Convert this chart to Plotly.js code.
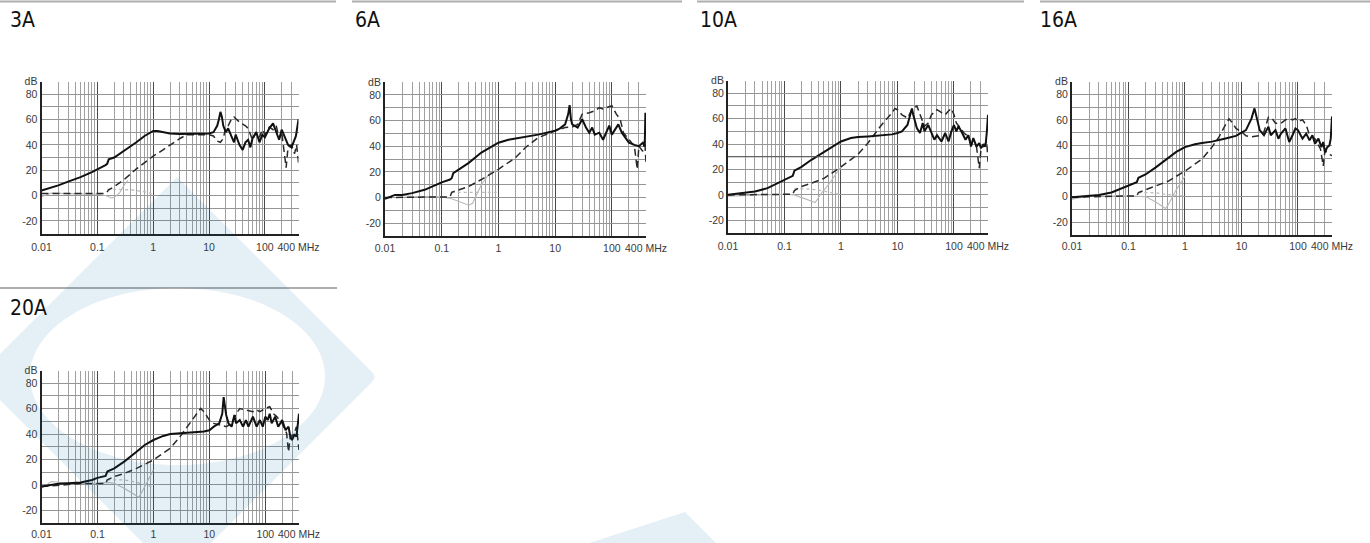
<!DOCTYPE html>
<html>
<head>
<meta charset="utf-8">
<script src="https://cdn.plot.ly/plotly-3.0.1.min.js"></script>
<style>
html,body{margin:0;padding:0;background:#fff;overflow:hidden}
#chart{width:1370px;height:543px}
</style>
</head>
<body>
<div id="chart"></div>
<script>
// ---------------- DATA (frequency in MHz, attenuation in dB) ----------------
const panelNames = ['3A', '6A', '10A', '16A', '20A'];
const xTickVals = [0.01, 0.1, 1, 10, 100, 400];
const xTickText = ['0.01', '0.1', '1', '10', '100', '400 MHz'];
const yTickVals = [-20, 0, 20, 40, 60, 80, 90];
const yTickText = ['-20', '0', '20', '40', '60', '80', 'dB'];

// 3A
const a3_solid_f  = [0.01,0.02,0.03,0.05,0.08,0.1,0.14,0.15,0.16,0.2,0.3,0.5,0.7,1,1.2,1.5,2,3,5,8,10,12,14,15,16,17,18,20,22,25,28,30,35,40,45,50,55,60,70,80,90,100,120,140,160,180,200,230,260,300,330,360,400];
const a3_solid_dB = [4,8,11,14.5,18.5,20.5,24,25,28.5,30,35,42,47,51,51,50,49,48.5,48.5,48.5,49,50,55,60,66,62,55,50,53,47,42,48,40,36,42,44,38,45,50,42,48,46,53,57,50,44,52,46,40,38,42,47,60];
const a3_dash_f   = [0.01,0.05,0.1,0.14,0.15,0.16,0.2,0.3,0.5,0.7,1,1.5,2,3,4,5,8,10,12,14,16,18,20,22,25,28,35,45,50,60,70,80,90,100,120,140,160,180,200,220,240,260,300,340,370,400];
const a3_dash_dB  = [1.5,1.5,1.5,1.5,3,4.5,7,12.5,21,26,31,36,40,45,48,48,48,48,47,43,42,45,54,55,60,62,58,55,53,44,50,46,52,48,54,52,55,45,50,35,22,38,40,33,40,26];
const a3_gray_f   = [0.01,0.015,0.03,0.1,0.14,0.18,0.2,0.25,0.3,0.35];
const a3_gray_dB  = [-1,2,1.5,1,0,-2,-1.5,2,8,12];
const a3_dot_f    = [0.15,0.2,0.4,0.7,1];
const a3_dot_dB   = [5,5,4.5,3,1];

// 6A
const a6_solid_f  = [0.01,0.015,0.02,0.03,0.05,0.08,0.1,0.14,0.15,0.16,0.2,0.3,0.5,0.7,1,1.5,2,3,5,10,12,15,17,18,19,20,25,30,35,40,45,50,60,70,80,90,100,110,130,150,180,200,250,300,350,380,390,400];
const a6_solid_dB = [-1,2,2,3.4,6,10,11.8,14,15,19,21.7,27,35,38.7,42.7,45,46,47.4,49,52,53.7,57,65,72,61,57,54.5,61,54.5,50.5,54.5,49,50.5,45,50.5,56,49,52,57,50.5,45,42.7,41,40,42.7,40,66,62];
const a6_dash_f   = [0.01,0.05,0.1,0.14,0.15,0.2,0.3,0.5,1,2,3,5,10,15,20,25,30,40,50,60,70,80,100,120,140,160,200,250,280,300,350,380,400];
const a6_dash_dB  = [0,0.5,0.5,0.5,4,6,8.6,14,22,31,39,46.6,52,54.5,55,57,65,66,67.5,70,69,70,71.5,65,61,50.5,45,40,22,40,36,45,27];
const a6_gray_f   = [0.01,0.015,0.03,0.1,0.15,0.2,0.3,0.35,0.5,0.7,1];
const a6_gray_dB  = [-1,2,1,0.5,-1,-3,-6,-4.5,10,19,22];
const a6_dot_f    = [0.15,0.3,0.5,1];
const a6_dot_dB   = [4,4,4,4];

// 10A
const a10_solid_f  = [0.01,0.02,0.03,0.05,0.08,0.1,0.14,0.15,0.2,0.3,0.5,0.7,1,1.5,2,3,5,8,10,12,15,17,18,19,20,22,25,28,30,35,40,45,50,60,70,80,90,100,110,120,140,160,180,200,220,250,280,300,330,360,380,400];
const a10_solid_dB = [0,1.3,2.6,5.3,9.7,11.8,15,19,22,27.6,34,38,42,44.7,45.5,46,47,47.6,48.7,50,55,63,68,63,59,52.6,48.7,56.6,50,55,48.7,43.4,47,42,48.7,42,50,55,50,54,48.7,43.4,47,38,44.7,38,40.8,36.8,39.5,38,48.7,63];
const a10_dash_f   = [0.01,0.05,0.1,0.14,0.15,0.2,0.3,0.5,1,2,3,5,8,9,10,12,15,18,22,25,30,35,40,50,60,70,80,90,100,110,130,150,180,200,250,280,300,350,380,400];
const a10_dash_dB  = [0,0.5,0.5,0.5,3.4,6.6,9.2,13,22,32,40.8,54,64.5,68,67,63,60.5,67,70,63,54,56.6,63,67,64.5,63,66,68,63,56.6,52.6,48.7,46,40.8,38,21,35.5,39.5,42,26];
const a10_gray_f   = [0.01,0.1,0.15,0.2,0.3,0.35,0.45,0.6,0.8,1];
const a10_gray_dB  = [-1,0.5,0,-2,-5,-6,1.3,8,16,22];
const a10_dot_f    = [0.15,0.3,0.5,1];
const a10_dot_dB   = [5,4.5,3,0];

// 16A
const a16_solid_f  = [0.01,0.02,0.03,0.05,0.08,0.1,0.14,0.15,0.2,0.3,0.5,0.7,1,1.5,2,3,5,8,10,12,15,17,19,21,25,30,33,40,45,50,60,70,80,90,100,120,140,160,180,200,230,260,280,300,330,360,380,400];
const a16_solid_dB = [-0.5,0.5,1.3,3.2,6.7,8.8,11.2,14.7,17.3,22.7,30,35,38.7,41,42,43,45.3,47.5,50,52,61,69,60,52,48,54.7,48,52,45.3,49.3,53.3,42.7,48,53.3,52,45.3,49.3,44,48,41.3,45.3,38.7,42.7,34.7,38.7,40,45.3,62.7];
const a16_dash_f   = [0.01,0.05,0.1,0.14,0.15,0.2,0.3,0.5,1,2,3,4,5,6,7,8,10,12,15,20,25,30,35,40,50,60,70,80,90,100,120,140,160,200,250,280,300,350,400];
const a16_dash_dB  = [-0.5,0.5,0.5,0.5,3.2,5.3,8,12,20,29.3,38.7,46.7,54.7,60.8,57.3,53.3,50.7,47.5,46.7,47.5,50.7,62,61,57.3,57.3,60,61,60,61,58.7,60,56,48,45.3,37.3,24,36,33.3,32];
const a16_gray_f   = [0.01,0.02,0.1,0.15,0.2,0.3,0.45,0.5,0.7,1];
const a16_gray_dB  = [-2,0.5,0.5,0.5,0,-4,-9.3,-6.7,5.3,16];
const a16_dot_f    = [0.15,0.3,0.5,1];
const a16_dot_dB   = [3.2,3,1.5,0.5];

// 20A
const a20_solid_f  = [0.01,0.02,0.03,0.05,0.08,0.1,0.14,0.15,0.2,0.3,0.5,0.7,1,1.5,2,3,5,8,10,12,15,17,18,20,22,25,28,30,35,40,45,50,60,70,80,90,100,110,120,130,150,170,200,230,260,280,300,330,360,380,400];
const a20_solid_dB = [-1.3,0.8,1.3,1.8,3.9,5.5,7,10.5,13,18.3,26,31.4,35.3,38.5,40,40.6,41,42,43,45.8,48.4,56,69,55,48.4,45.8,55,48.4,51,45.8,51,45.8,53.7,45.8,51,45.8,53.7,51,56,48.4,53.7,45.8,51,43,45.8,38,35.3,39.3,38,45.8,56];
const a20_dash_f   = [0.01,0.05,0.1,0.14,0.15,0.2,0.3,0.5,1,2,3,4,5,6,7,8,10,12,15,20,25,30,35,40,50,60,70,80,100,120,140,160,200,240,260,280,320,360,400];
const a20_dash_dB  = [-1.3,1,1,1,4,6.5,9,13,19.6,28.8,38,45.8,51.6,56.8,60.2,57.6,51,48.4,47,45.8,48.4,56,60,59.4,59,57.6,59,57.6,60.2,61.5,56,53.7,48.4,40.6,26,38,39.3,45.8,27.5];
const a20_gray_f   = [0.01,0.015,0.03,0.1,0.15,0.2,0.3,0.45,0.55,0.65,0.8,1];
const a20_gray_dB  = [-2.6,2.6,1.3,1,2,1.3,-2.6,-7.8,-9.7,-4,4,11.8];
const a20_dot_f    = [0.15,0.3,0.5,1];
const a20_dot_dB   = [4,4,2,-2];

// ---------------- build ----------------
const panelData = [
  {solid:[a3_solid_f,a3_solid_dB],  dash:[a3_dash_f,a3_dash_dB],  gray:[a3_gray_f,a3_gray_dB],  dot:[a3_dot_f,a3_dot_dB]},
  {solid:[a6_solid_f,a6_solid_dB],  dash:[a6_dash_f,a6_dash_dB],  gray:[a6_gray_f,a6_gray_dB],  dot:[a6_dot_f,a6_dot_dB]},
  {solid:[a10_solid_f,a10_solid_dB],dash:[a10_dash_f,a10_dash_dB],gray:[a10_gray_f,a10_gray_dB],dot:[a10_dot_f,a10_dot_dB]},
  {solid:[a16_solid_f,a16_solid_dB],dash:[a16_dash_f,a16_dash_dB],gray:[a16_gray_f,a16_gray_dB],dot:[a16_dot_f,a16_dot_dB]},
  {solid:[a20_solid_f,a20_solid_dB],dash:[a20_dash_f,a20_dash_dB],gray:[a20_gray_f,a20_gray_dB],dot:[a20_dot_f,a20_dot_dB]}
];

const W = 1370, H = 543;
// plot boxes in pixels: [left, right, top, bottom]
const boxes = [[41.5,298.5,81.5,233.5],[385,646,82,236],[728,988,80.5,233],[1072,1332,81.5,235],[41.5,299,370.5,523]];
const xStandoff = [3, 1, 2, 0, 0];
const titlePos = [[8,20],[353,20],[698,20],[1038,20],[8,308]];
const sepLines = [[0,336,1.5],[352,682,1.5],[697,1024,1.5],[1040,1370,1.5],[0,337,288]];

const minorX = [];
[0.01,0.1,1,10,100].forEach(d => { for (let k = 2; k <= 9; k++) { const v = d*k; if (v < 400) minorX.push(+v.toPrecision(3)); } });
const minorY = [-10,10,30,50,70];

const tickFont = {family:'"Liberation Sans", Arial, sans-serif', size:10.5, color:'#3a3a3a'};
const traces = [];
const layout = {
  width: W, height: H,
  margin: {l:0, r:0, t:0, b:0},
  paper_bgcolor: '#ffffff', plot_bgcolor: '#ffffff',
  showlegend: false, hovermode: false,
  annotations: [], shapes: []
};

panelNames.forEach((name, i) => {
  const s = i === 0 ? '' : String(i + 1);
  const [L, R, T, B] = boxes[i];
  layout['xaxis' + s] = {
    type: 'log', range: [-2, Math.log10(400)], domain: [L / W, R / W], anchor: 'y' + s,
    tickmode: 'array', tickvals: xTickVals, ticktext: xTickText,
    showgrid: true, gridcolor: '#4a4a4a', gridwidth: 1,
    minor: {tickmode: 'array', tickvals: minorX, showgrid: true, gridcolor: '#a0a0a0', gridwidth: 1, ticks: ''},
    showline: true, linecolor: '#222', linewidth: 2, zeroline: false,
    ticks: '', ticklabelstandoff: xStandoff[i], tickfont: tickFont, fixedrange: true
  };
  layout['yaxis' + s] = {
    range: [-30, 90], domain: [1 - B / H, 1 - T / H], anchor: 'x' + s,
    tickmode: 'array', tickvals: yTickVals, ticktext: yTickText,
    showgrid: true, gridcolor: '#959595', gridwidth: 1,
    minor: {tickmode: 'array', tickvals: minorY, showgrid: true, gridcolor: '#959595', gridwidth: 1, ticks: ''},
    showline: true, linecolor: '#222', linewidth: 2, zeroline: false,
    ticks: '', ticklabelstandoff: 0, tickfont: tickFont, fixedrange: true
  };
  const d = panelData[i];
  traces.push({x: d.gray[0], y: d.gray[1], xaxis: 'x' + s, yaxis: 'y' + s, mode: 'lines',
    line: {color: '#b8b8b8', width: 1.1}});
  traces.push({x: d.dot[0], y: d.dot[1], xaxis: 'x' + s, yaxis: 'y' + s, mode: 'lines',
    line: {color: '#bdbdbd', width: 1.3, dash: 'dot'}});
  traces.push({x: d.dash[0], y: d.dash[1], xaxis: 'x' + s, yaxis: 'y' + s, mode: 'lines',
    line: {color: '#2a2a2a', width: 1.5, dash: '7px,4px'}});
  traces.push({x: d.solid[0], y: d.solid[1], xaxis: 'x' + s, yaxis: 'y' + s, mode: 'lines',
    line: {color: '#111111', width: 2}});

  layout.annotations.push({
    text: name, xref: 'paper', yref: 'paper',
    x: titlePos[i][0] / W, y: 1 - titlePos[i][1] / H,
    xanchor: 'left', yanchor: 'middle', showarrow: false,
    font: {family: '"Liberation Sans Narrow", "DejaVu Sans Condensed", sans-serif', size: 21, color: '#111'}
  });
  const sl = sepLines[i];
  layout.shapes.push({type: 'line', xref: 'paper', yref: 'paper',
    x0: sl[0] / W, x1: sl[1] / W, y0: 1 - sl[2] / H, y1: 1 - sl[2] / H,
    line: {color: '#adadad', width: 2}});
});

// darker scan line in the 10A chart
layout.shapes.push({type: 'line', xref: 'x3 domain', yref: 'y3', x0: 0, x1: 1, y0: 30, y1: 30,
  line: {color: '#555', width: 1.2}});

// light blue watermark
const P = (px, py) => (px / W).toFixed(5) + ',' + (1 - py / H).toFixed(5);
const cx = 177.5, cy = 376.5, rx = 147.5, ry = 88.5, k = 0.5523;
const diamond = `M ${P(177,177)} L ${P(371,371)} Q ${P(378,377)} ${P(371,383)} L ${P(177,577)} L ${P(-23,377)} Z`;
const ellipse = `M ${P(cx+rx,cy)} C ${P(cx+rx,cy+k*ry)} ${P(cx+k*rx,cy+ry)} ${P(cx,cy+ry)} ` +
  `C ${P(cx-k*rx,cy+ry)} ${P(cx-rx,cy+k*ry)} ${P(cx-rx,cy)} ` +
  `C ${P(cx-rx,cy-k*ry)} ${P(cx-k*rx,cy-ry)} ${P(cx,cy-ry)} ` +
  `C ${P(cx+k*rx,cy-ry)} ${P(cx+rx,cy-k*ry)} ${P(cx+rx,cy)} Z`;
layout.shapes.push({type: 'path', xref: 'paper', yref: 'paper', layer: 'above',
  path: diamond + ' ' + ellipse, fillrule: 'evenodd',
  fillcolor: 'rgba(0,105,170,0.1)', line: {width: 0}});
layout.shapes.push({type: 'path', xref: 'paper', yref: 'paper', layer: 'above',
  path: `M ${P(685,512)} L ${P(718,545)} L ${P(583,545)} Z`,
  fillcolor: 'rgba(0,105,170,0.1)', line: {width: 0}});

Plotly.newPlot('chart', traces, layout, {staticPlot: true, displayModeBar: false});
</script>
</body>
</html>
